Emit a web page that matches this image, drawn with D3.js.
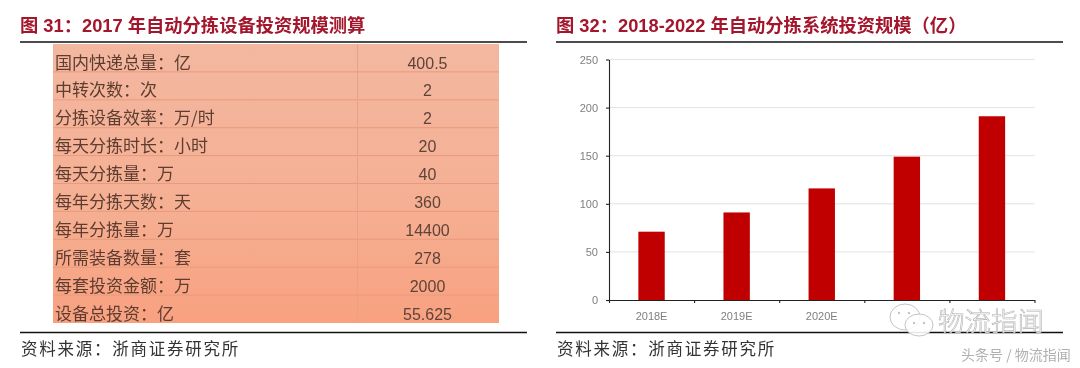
<!DOCTYPE html>
<html>
<head>
<meta charset="utf-8">
<script src="https://cdnjs.cloudflare.com/ajax/libs/d3/7.8.5/d3.min.js"></script>
<style>
  html, body { margin: 0; padding: 0; background: #fff; }
  svg { display: block; filter: blur(0.45px); }
</style>
</head>
<body>
<div id="chart"></div>
<script>
// table data
var rowLabels = ["国内快递总量：亿", "中转次数：次", "分拣设备效率：万/时", "每天分拣时长：小时", "每天分拣量：万",
                 "每年分拣天数：天", "每年分拣量：万", "所需装备数量：套", "每套投资金额：万", "设备总投资：亿"];
var rowValues = ["400.5", "2", "2", "20", "40", "360", "14400", "278", "2000", "55.625"];

// bar data, the last two tick labels are covered by the watermark in the original
var categories = ["2018E", "2019E", "2020E", "2021E", "2022E"];
var visibleLabels = ["2018E", "2019E", "2020E"];
var investment = [71, 91, 116, 149, 191];
var yTicks = [0, 50, 100, 150, 200, 250];

var cjk = "'Noto Sans CJK SC', 'Liberation Sans', sans-serif";
var latin = "'Liberation Sans', 'Noto Sans CJK SC', sans-serif";

var svg = d3.select("#chart").append("svg")
    .attr("width", 1080)
    .attr("height", 368);

var grad = svg.append("defs").append("linearGradient")
    .attr("id", "tableFill")
    .attr("x1", 0).attr("y1", 0).attr("x2", 0).attr("y2", 1);
grad.append("stop").attr("offset", "0%").attr("stop-color", "#f3b7a0");
grad.append("stop").attr("offset", "55%").attr("stop-color", "#f5b094");
grad.append("stop").attr("offset", "100%").attr("stop-color", "#f8a180");

// panel titles, rules and source lines
var panels = [
  {x1: 20, x2: 527, title: "图 31：2017 年自动分拣设备投资规模测算"},
  {x1: 556, x2: 1063, title: "图 32：2018-2022 年自动分拣系统投资规模（亿）"}
];

panels.forEach(function(p) {
  svg.append("text")
    .attr("x", p.x1)
    .attr("y", 32)
    .style("font-family", latin)
    .style("font-weight", "bold")
    .style("font-size", "18.3px")
    .style("fill", "#a3162c")
    .text(p.title);
  svg.append("line")
    .attr("x1", p.x1).attr("x2", p.x2)
    .attr("y1", 42).attr("y2", 42)
    .style("stroke", "#111")
    .style("stroke-width", 1.3);
  svg.append("line")
    .attr("x1", p.x1).attr("x2", p.x2)
    .attr("y1", 332.5).attr("y2", 332.5)
    .style("stroke", "#111")
    .style("stroke-width", 1.3);
  svg.append("text")
    .attr("x", p.x1 + 1)
    .attr("y", 355)
    .style("font-family", cjk)
    .style("font-size", "16.5px")
    .style("letter-spacing", "1.75px")
    .style("fill", "#333")
    .text("资料来源：浙商证券研究所");
});

// left table
var rowY = d3.scaleBand()
    .domain(d3.range(rowLabels.length))
    .range([44, 323]);

svg.append("rect")
    .attr("x", 53).attr("y", 44)
    .attr("width", 446).attr("height", 279)
    .style("fill", "url(#tableFill)");

svg.selectAll(".rowline")
    .data(d3.range(1, rowLabels.length))
    .enter()
    .append("line")
    .attr("class", "rowline")
    .attr("x1", 53).attr("x2", 499)
    .attr("y1", function(d) { return rowY(d); })
    .attr("y2", function(d) { return rowY(d); })
    .style("stroke", "#e99a7c")
    .style("stroke-width", 1);

svg.append("line")
    .attr("x1", 357.5).attr("x2", 357.5)
    .attr("y1", 44).attr("y2", 323)
    .style("stroke", "#e9a186")
    .style("stroke-width", 1);

svg.selectAll(".rowlabel")
    .data(rowLabels)
    .enter()
    .append("text")
    .attr("class", "rowlabel")
    .attr("x", 55)
    .attr("y", function(d, i) { return rowY(i) + 24.5; })
    .style("font-family", cjk)
    .style("font-size", "17px")
    .style("fill", "#5e3d30")
    .text(function(d) { return d; });

svg.selectAll(".rowvalue")
    .data(rowValues)
    .enter()
    .append("text")
    .attr("class", "rowvalue")
    .attr("x", 427.5)
    .attr("y", function(d, i) { return rowY(i) + 24.5; })
    .attr("text-anchor", "middle")
    .style("font-family", latin)
    .style("font-size", "16px")
    .style("fill", "#5e4438")
    .text(function(d) { return d; });

// right chart
var x = d3.scaleBand()
    .domain(categories)
    .range([609, 1034.5])
    .paddingInner(0.69)
    .paddingOuter(0.345);
var y = d3.scaleLinear()
    .domain([0, 250])
    .range([300, 59.5]);
var xEdges = d3.scaleLinear()
    .domain([0, categories.length])
    .range(x.range());

svg.selectAll(".grid")
    .data(yTicks.slice(1))
    .enter()
    .append("line")
    .attr("class", "grid")
    .attr("x1", 609).attr("x2", 1034.5)
    .attr("y1", y).attr("y2", y)
    .style("stroke", "#e2e2e2")
    .style("stroke-width", 1);

svg.selectAll(".bar")
    .data(investment)
    .enter()
    .append("rect")
    .attr("class", "bar")
    .attr("x", function(d, i) { return x(categories[i]); })
    .attr("y", y)
    .attr("width", x.bandwidth())
    .attr("height", function(d) { return y(0) - y(d); })
    .style("fill", "#c00000");

var yAxis = svg.append("g")
    .attr("transform", "translate(609,0)")
    .call(d3.axisLeft(y).tickValues(yTicks).tickSize(3).tickPadding(8).tickSizeOuter(0));
var xEdgeAxis = svg.append("g")
    .attr("transform", "translate(0,300)")
    .call(d3.axisBottom(xEdges).ticks(categories.length).tickSize(3).tickSizeOuter(0).tickFormat(""));
var xAxis = svg.append("g")
    .attr("transform", "translate(0,300)")
    .call(d3.axisBottom(x)
      .tickValues(visibleLabels)
      .tickSize(0)
      .tickSizeOuter(0)
      .tickPadding(12));
xAxis.select(".domain").remove();

[yAxis, xEdgeAxis].forEach(function(a) {
  a.selectAll(".domain, line")
    .style("stroke", "#222")
    .style("stroke-width", 1.1);
});
svg.selectAll("g.tick text")
    .style("font-family", latin)
    .style("font-size", "11px")
    .style("fill", "#7f7f7f");

// watermark
var mark = svg.append("g")
    .style("fill", "none")
    .style("stroke", "#c4c4c4")
    .style("stroke-width", 1);
mark.append("ellipse")
    .attr("cx", 905).attr("cy", 317).attr("rx", 15).attr("ry", 13)
    .style("fill", "rgba(255,255,255,0.8)");
mark.append("ellipse")
    .attr("cx", 919).attr("cy", 325).attr("rx", 14).attr("ry", 11)
    .style("fill", "rgba(255,255,255,0.9)");
mark.selectAll(".eye")
    .data([[899, 313], [909, 313], [914, 323], [924, 323]])
    .enter()
    .append("circle")
    .attr("class", "eye")
    .attr("cx", function(d) { return d[0]; })
    .attr("cy", function(d) { return d[1]; })
    .attr("r", 1.2)
    .style("fill", "#c4c4c4")
    .style("stroke", "none");

svg.append("text")
    .attr("x", 938)
    .attr("y", 331)
    .style("font-family", cjk)
    .style("font-weight", 300)
    .style("font-size", "26.5px")
    .style("fill", "rgba(255,255,255,0.85)")
    .style("stroke", "#b0b0b0")
    .style("stroke-width", 0.6)
    .text("物流指闻");

svg.append("text")
    .attr("x", 961)
    .attr("y", 360)
    .style("font-family", cjk)
    .style("font-size", "14px")
    .style("fill", "#b0b0b0")
    .text("头条号 / 物流指闻");
</script>
</body>
</html>
